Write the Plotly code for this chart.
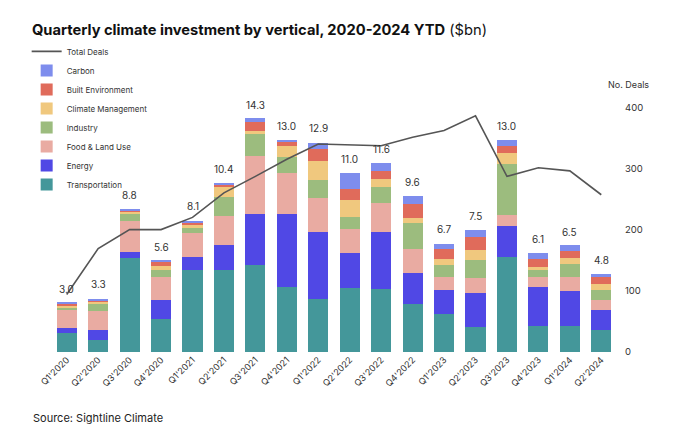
import plotly.graph_objects as go

# quarters and investment by vertical ($bn)
quarters = ["Q1'2020", "Q2'2020", "Q3'2020", "Q4'2020",
            "Q1'2021", "Q2'2021", "Q3'2021", "Q4'2021",
            "Q1'2022", "Q2'2022", "Q3'2022", "Q4'2022",
            "Q1'2023", "Q2'2023", "Q3'2023", "Q4'2023",
            "Q1'2024", "Q2'2024"]

transportation = [1.19, 0.72, 5.79, 2.04, 5.01, 5.05, 5.32, 3.99, 3.23, 3.95, 3.84, 2.97, 2.35, 1.53, 5.83, 1.57, 1.62, 1.37]
energy = [0.27, 0.61, 0.35, 1.17, 0.82, 1.49, 3.17, 4.50, 4.13, 2.13, 3.52, 1.88, 1.43, 2.11, 1.90, 2.45, 2.11, 1.23]
food_land = [1.17, 1.17, 1.90, 1.39, 1.47, 1.84, 3.54, 2.49, 2.11, 1.49, 1.80, 1.45, 0.82, 0.90, 0.70, 0.57, 0.88, 0.61]
industry = [0.12, 0.45, 0.47, 0.41, 0.33, 1.12, 1.37, 1.02, 1.12, 0.72, 0.96, 1.62, 0.72, 1.12, 3.09, 0.45, 0.78, 0.61]
climate_mgmt = [0.12, 0.14, 0.10, 0.25, 0.18, 0.61, 0.20, 0.65, 1.12, 1.06, 0.51, 0.31, 0.41, 0.61, 0.70, 0.20, 0.41, 0.37]
built_env = [0.10, 0.10, 0.08, 0.30, 0.14, 0.18, 0.51, 0.22, 0.76, 0.63, 0.47, 0.84, 0.57, 0.82, 0.43, 0.47, 0.41, 0.41]
carbon = [0.06, 0.08, 0.10, 0.03, 0.12, 0.08, 0.27, 0.14, 0.37, 1.02, 0.49, 0.53, 0.35, 0.41, 0.35, 0.35, 0.33, 0.20]

totals = [3.0, 3.3, 8.8, 5.6, 8.1, 10.4, 14.3, 13.0, 12.9, 11.0, 11.6, 9.6, 6.7, 7.5, 13.0, 6.1, 6.5, 4.8]
total_deals = [94, 169, 200, 200, 220, 260, 287, 315, 340, 339, 337, 351, 362, 386, 287, 301, 296, 257]

series = [
    ("Transportation", transportation, "#44979a"),
    ("Energy", energy, "#5048e5"),
    ("Food & Land Use", food_land, "#e9aba2"),
    ("Industry", industry, "#9cbc7e"),
    ("Climate Management", climate_mgmt, "#f0c87e"),
    ("Built Environment", built_env, "#e06b5b"),
    ("Carbon", carbon, "#7e8ded"),
]

fig = go.Figure()

for name, vals, col in series:
    fig.add_trace(go.Bar(x=quarters, y=vals, name=name,
                         marker=dict(color=col, line=dict(width=0)),
                         hoverinfo="y+name"))

fig.add_trace(go.Scatter(x=quarters, y=total_deals, name="Total Deals",
                         mode="lines", yaxis="y2",
                         line=dict(color="#555555", width=1.6)))

# total labels above the bars
labels = [dict(x=q, y=t, text="%.1f" % t, showarrow=False, yshift=14,
               font=dict(size=10, color="#333333"))
          for q, t in zip(quarters, totals)]

fig.update_layout(
    width=680, height=439,
    barmode="stack", bargap=0.36,
    paper_bgcolor="white", plot_bgcolor="white",
    font=dict(family="Inter", color="#333333"),
    margin=dict(l=51, r=63, t=95, b=87),
    title=dict(text="<b>Quarterly climate investment by vertical, 2020-2024 YTD</b> ($bn)",
               x=0.047, xanchor="left", y=0.931, yanchor="middle",
               font=dict(size=14.7, color="#111111")),
    xaxis=dict(type="category", range=[-0.5, 17.5], tickangle=-45,
               tickfont=dict(size=9, color="#333333"), showline=False,
               ticks="", showgrid=False),
    yaxis=dict(range=[0, 15.78], visible=False, showgrid=False),
    yaxis2=dict(range=[0, 420], overlaying="y", side="right",
                tickvals=[0, 100, 200, 300, 400], showgrid=False,
                zeroline=False, tickfont=dict(size=9.5, color="#333333"),
                ticklabelstandoff=7),
    legend=dict(x=-0.043, y=1.226, xanchor="left", yanchor="top",
                traceorder="reversed", font=dict(size=8, color="#333333"),
                bgcolor="rgba(0,0,0,0)", itemwidth=30, tracegroupgap=0),
    annotations=labels + [
        dict(text="No. Deals", x=1.02, xref="paper", y=1.01, yref="paper",
             xanchor="center", yanchor="bottom", showarrow=False,
             font=dict(size=9, color="#333333")),
        dict(text="Source: Sightline Climate", x=(31 - 51) / 566, xref="paper",
             xanchor="left", y=-(418 - 351.7) / 257.2, yref="paper",
             yanchor="middle", showarrow=False,
             font=dict(size=11, color="#222222")),
    ],
)

fig.write_html("out.html", config={"displayModeBar": False},
               post_script="document.body.style.margin='0';")
